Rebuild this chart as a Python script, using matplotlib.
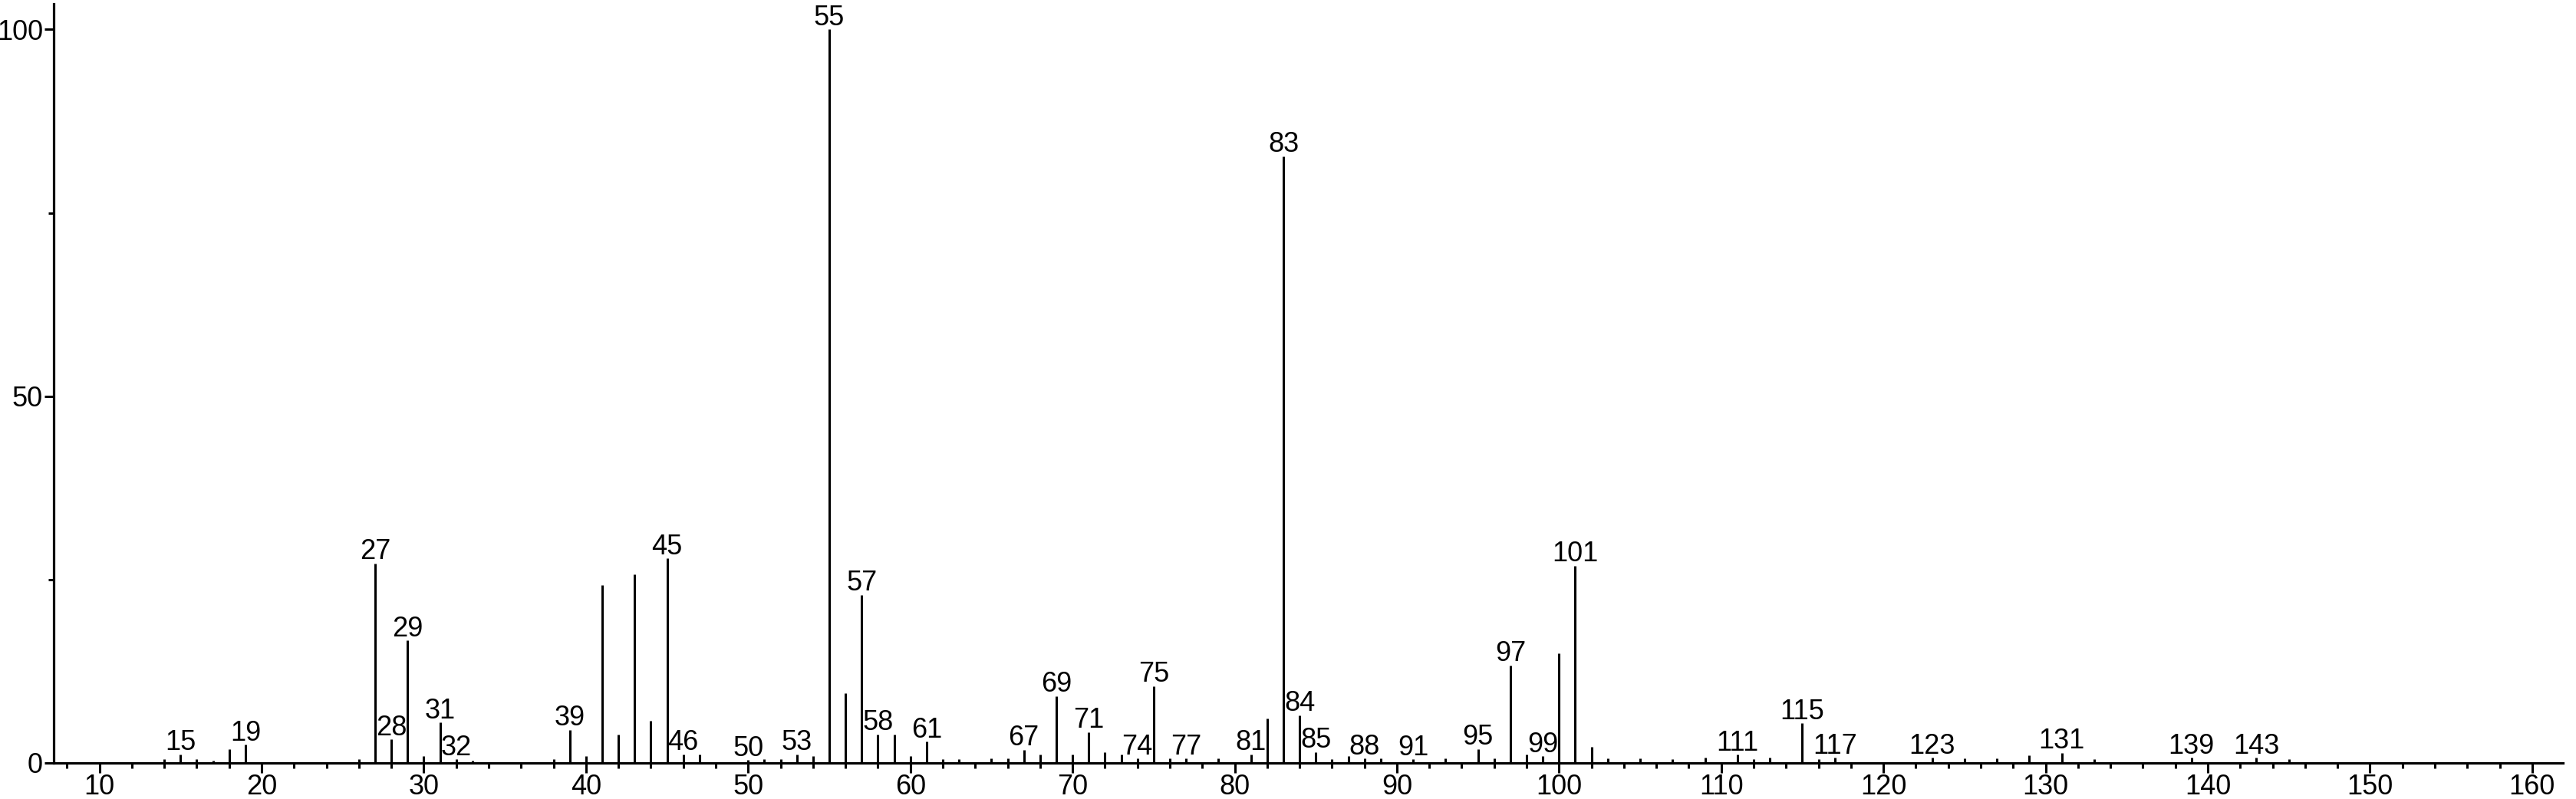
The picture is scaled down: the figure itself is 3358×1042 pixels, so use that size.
import numpy as np

import matplotlib
matplotlib.use("Agg")
import matplotlib.pyplot as plt

################################################### Spectrum data ######################################################
mz = [14, 15, 16, 17, 18, 19, 26, 27, 28, 29, 30, 31, 32, 33, 38, 39, 40, 41, 42, 43, 44, 45, 46, 47,
      50, 51, 52, 53, 54, 55, 56, 57, 58, 59, 60, 61, 62, 63, 65, 66, 67, 68, 69, 70, 71, 72, 73, 74,
      75, 76, 77, 79, 81, 82, 83, 84, 85, 86, 87, 88, 89, 91, 93, 95, 96, 97, 98, 99, 100, 101, 102,
      103, 105, 107, 109, 111, 112, 113, 115, 116, 117, 123, 125, 127, 129, 131, 133, 139, 143, 145]
intensity = [0.5, 1.2, 0.5, 0.35, 1.9, 2.5, 0.5, 27.2, 3.2, 16.7, 0.9, 5.5, 0.5, 0.35, 0.5, 4.5, 0.9,
             24.3, 3.9, 25.7, 5.8, 27.9, 1.2, 1.2,
             0.4, 0.5, 0.5, 1.2, 0.9, 100.0, 9.5, 22.9, 3.9, 3.9, 0.9, 2.9, 0.5, 0.5, 0.6, 0.6, 1.8, 1.2,
             9.1, 1.2, 4.2, 1.5, 1.2, 0.6,
             10.5, 0.6, 0.6, 0.6, 1.2, 6.1, 82.7, 6.5, 1.5, 0.5, 0.9, 0.6, 0.6, 0.5, 0.6, 1.9, 0.6, 13.3,
             1.2, 0.9, 15.0, 26.9, 2.2,
             0.6, 0.6, 0.5, 0.7, 1.1, 0.5, 0.7, 5.4, 0.5, 0.7, 0.7, 0.6, 0.6, 1.0, 1.4, 0.5, 0.7, 0.7, 0.5]

# peaks that carry an m/z label
labelled = [15, 19, 27, 28, 29, 31, 32, 39, 45, 46, 50, 53, 55, 57, 58, 61, 67, 69, 71, 74, 75, 77,
            81, 83, 84, 85, 88, 91, 95, 97, 99, 101, 111, 115, 117, 123, 131, 139, 143]

x_major = np.arange(10, 161, 10)
x_minor = [x for x in range(8, 162, 2) if x % 10 != 0]
y_major = [0, 50, 100]
y_minor = [25, 75]

plt.rcParams["font.family"] = ["Liberation Sans", "DejaVu Sans"]
FS = 26

################################################### Plot ###############################################################
fig = plt.figure(figsize=(33.58, 10.42), dpi=100)
ax = fig.add_axes([70 / 3358, 47 / 1042, 3271 / 3358, 990 / 1042])

ax.vlines(mz, 0, intensity, colors="black", linewidth=2.2)

for m, h in zip(mz, intensity):
    if m in labelled:
        ax.annotate(str(m), xy=(m, h), xytext=(0, 4), textcoords="offset points",
                    ha="center", va="baseline", fontsize=FS)

ax.set_xlim(7.18, 161.9)
ax.set_ylim(0, 103.5)

ax.set_xticks(x_major)
ax.set_xticks(x_minor, minor=True)
ax.set_yticks(y_major)
ax.set_yticks(y_minor, minor=True)
ax.tick_params(axis="both", which="major", direction="out", length=9, width=2.2, labelsize=FS, pad=1)
ax.tick_params(axis="both", which="minor", direction="out", length=5, width=2.2)

for side in ["top", "right"]:
    ax.spines[side].set_visible(False)
for side in ["left", "bottom"]:
    ax.spines[side].set_linewidth(2.3)

plt.savefig("out.png", dpi=100)
plt.close()
